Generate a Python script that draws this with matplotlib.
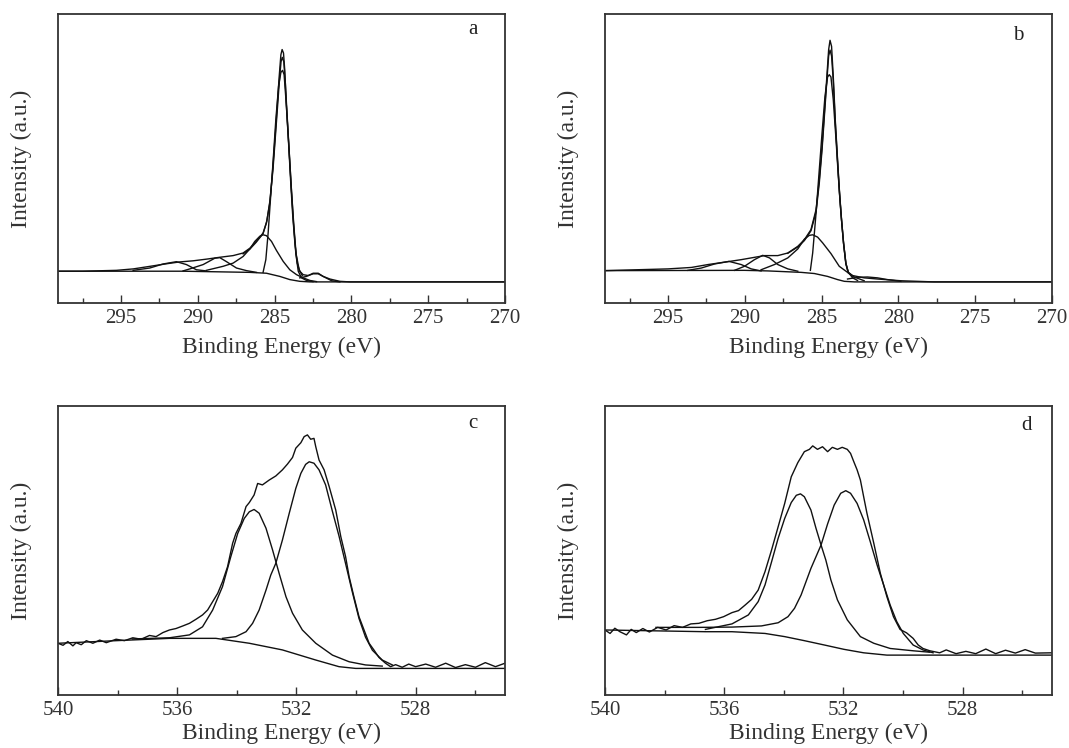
import matplotlib
matplotlib.use("Agg")
import matplotlib.pyplot as plt
from matplotlib.ticker import MultipleLocator

plt.rcParams['font.family'] = ['Liberation Serif', 'DejaVu Serif']

# ---- panel a : C 1s (binding energy eV, intensity in % of axis height) ----
a_raw_x = [299.1, 297.5, 295.3, 294.2, 293.1, 292.0, 291.2, 290.3, 289.4, 288.6, 287.7, 287.05,
           286.6, 286.2, 285.75, 285.53, 285.31, 285.14, 284.98, 284.83, 284.70, 284.59, 284.51,
           284.42, 284.34, 284.23, 284.09, 283.96, 283.83, 283.68, 283.53, 283.36, 283.14, 282.81,
           282.49, 282.16, 281.84, 281.40, 280.75, 280.10, 270.0]
a_raw_y = [11.0, 11.0, 11.3, 11.8, 12.7, 13.6, 14.2, 14.6, 15.2, 15.8, 16.4, 17.3,
           19.0, 21.3, 24.2, 27.7, 34.6, 45.0, 56.5, 68.1, 78.4, 85.9, 87.7,
           86.5, 80.7, 68.1, 55.4, 42.7, 31.1, 20.8, 13.8, 11.0, 9.8, 9.5,
           10.1, 10.1, 9.2, 8.3, 7.5, 7.3, 7.3]
a_fit_x = [287.05, 286.6, 286.2, 285.75, 285.5, 285.3, 285.1, 284.95, 284.8, 284.68, 284.58,
           284.5, 284.4, 284.3, 284.2, 284.05, 283.9, 283.75, 283.6, 283.4, 283.2]
a_fit_y = [17.0, 18.7, 21.0, 24.0, 28.5, 35.5, 46.5, 57.5, 68.5, 77.5, 83.5,
           85.0, 83.5, 76.0, 66.5, 52.5, 39.0, 27.0, 17.0, 11.5, 9.5]
a_c1_x = [285.75, 285.57, 285.42, 285.27, 285.09, 284.92, 284.74, 284.59, 284.48, 284.38,
          284.23, 284.07, 283.92, 283.77, 283.62, 283.46, 283.25, 282.92, 282.5]
a_c1_y = [10.6, 15.0, 24.2, 35.8, 49.6, 63.4, 75.0, 79.8, 80.5, 79.0,
          68.1, 54.2, 40.4, 27.7, 17.3, 11.0, 8.7, 7.8, 7.4]
a_c2_x = [289.44, 288.35, 287.70, 287.05, 286.61, 286.29, 285.96, 285.75, 285.53, 285.20,
          284.88, 284.44, 284.01, 283.57, 283.14, 282.70, 282.27]
a_c2_y = [11.3, 12.7, 13.8, 16.1, 18.7, 21.3, 23.1, 23.6, 23.3, 21.3,
          18.2, 14.4, 11.5, 9.8, 8.7, 7.8, 7.4]
a_c3_x = [290.96, 290.52, 289.65, 288.89, 288.57, 288.13, 287.48, 286.83, 286.18]
a_c3_y = [11.1, 11.8, 13.3, 15.5, 15.7, 14.3, 12.1, 11.2, 10.6]
a_c4_x = [294.21, 293.13, 292.26, 291.39, 290.74, 290.09, 289.44]
a_c4_y = [11.3, 12.1, 13.5, 14.3, 13.3, 11.5, 11.1]
a_c5_x = [283.36, 282.92, 282.49, 282.16, 281.84, 281.29, 280.75]
a_c5_y = [8.7, 9.2, 10.3, 10.3, 9.2, 7.7, 7.3]
a_bg_x = [299.1, 290.96, 288.79, 286.61, 285.53, 284.66, 284.01, 283.36, 282.70, 270.0]
a_bg_y = [11.0, 11.0, 10.8, 10.6, 10.3, 9.2, 8.1, 7.5, 7.3, 7.3]

# ---- panel b : C 1s ----
b_raw_x = [299.1, 295.0, 293.48, 292.40, 291.10, 290.23, 289.37, 288.72, 287.85, 287.20, 286.55,
           286.12, 285.69, 285.36, 285.15, 284.97, 284.82, 284.67, 284.54, 284.45, 284.35,
           284.24, 284.11, 283.96, 283.83, 283.70, 283.57, 283.42, 283.26, 282.98, 282.23,
           281.36, 279.84, 277.68, 270.0]
b_raw_y = [11.2, 11.8, 12.3, 13.3, 14.3, 15.0, 15.8, 16.4, 16.4, 17.3, 19.6,
           21.9, 25.4, 32.3, 42.7, 54.2, 65.7, 77.3, 87.7, 90.9, 88.8,
           78.4, 63.4, 49.6, 38.1, 28.8, 20.8, 13.8, 10.6, 9.5, 8.7,
           8.3, 7.7, 7.3, 7.3]
b_fit_x = [287.2, 286.55, 286.12, 285.69, 285.36, 285.15, 284.97, 284.82, 284.67, 284.54, 284.45,
           284.35, 284.24, 284.11, 283.96, 283.83, 283.7, 283.57, 283.42, 283.26, 282.98]
b_fit_y = [17.2, 19.4, 21.6, 25.0, 31.5, 41.5, 53.0, 64.5, 76.0, 85.5, 87.5,
           85.5, 77.0, 62.5, 49.0, 37.5, 28.5, 20.5, 13.5, 10.4, 9.3]
b_c1_x = [285.73, 285.58, 285.36, 285.15, 284.97, 284.78, 284.61, 284.50, 284.39, 284.24,
          284.06, 283.91, 283.74, 283.57, 283.42, 283.26, 282.98, 282.66]
b_c1_y = [11.3, 17.3, 31.1, 46.1, 58.8, 71.5, 78.2, 79.0, 78.2, 70.4,
          56.5, 43.8, 31.1, 20.8, 13.8, 10.6, 8.7, 7.8]
b_c2_x = [288.94, 288.07, 287.20, 286.55, 286.12, 285.80, 285.58, 285.26, 284.93, 284.39,
          283.85, 283.31, 282.87, 282.23]
b_c2_y = [11.5, 13.3, 15.6, 18.7, 22.1, 23.4, 23.6, 22.8, 20.8, 17.1,
          12.7, 10.6, 9.0, 7.7]
b_c3_x = [290.67, 290.02, 289.37, 288.83, 288.39, 287.85, 287.20, 286.55]
b_c3_y = [11.3, 12.7, 15.0, 16.5, 15.6, 13.3, 11.8, 11.0]
b_c4_x = [293.70, 292.83, 291.97, 291.03, 290.23, 289.58, 288.94]
b_c4_y = [11.3, 12.1, 13.5, 14.4, 13.3, 11.8, 11.1]
b_c5_x = [283.31, 282.66, 282.01, 281.36, 280.71, 279.84]
b_c5_y = [8.3, 8.9, 9.0, 8.7, 8.1, 7.5]
b_bg_x = [299.1, 290.02, 288.50, 286.33, 285.47, 284.61, 283.96, 283.52, 282.87, 270.0]
b_bg_y = [11.2, 11.3, 11.1, 10.6, 10.2, 9.2, 8.1, 7.5, 7.3, 7.3]

# ---- panel c : O 1s ----
c_raw_x = [540.0, 539.83, 539.67, 539.50, 539.39, 539.22, 539.05, 538.83, 538.60, 538.38, 538.05,
           537.77, 537.49, 537.21, 536.93, 536.71, 536.48, 536.26, 536.04, 535.81, 535.59,
           535.37, 535.15, 534.98, 534.81, 534.64, 534.48, 534.31, 534.14, 534.03, 533.86,
           533.69, 533.58, 533.42, 533.30, 533.14, 532.91, 532.69, 532.47, 532.30, 532.13,
           532.02, 531.85, 531.74, 531.63, 531.52, 531.41, 531.35, 531.24, 531.07, 530.90,
           530.68, 530.51, 530.35, 530.23, 530.07, 529.90, 529.73, 529.56, 529.40, 529.23,
           529.01, 528.84, 528.67, 528.45, 528.23, 528.00, 527.66, 527.33, 526.99, 526.66,
           526.33, 525.99, 525.66, 525.32, 525.0]
c_raw_y = [17.9, 17.2, 18.5, 17.0, 18.1, 17.4, 18.8, 17.9, 19.0, 18.1, 19.3,
           18.8, 19.8, 19.3, 20.6, 20.2, 21.6, 22.5, 23.0, 23.9, 24.8,
           26.2, 27.7, 29.4, 32.3, 35.2, 39.2, 44.4, 52.5, 55.9, 59.4,
           65.2, 66.6, 69.2, 73.2, 72.7, 74.4, 75.8, 77.9, 79.9, 82.2,
           85.4, 87.3, 89.4, 90.0, 88.5, 88.8, 85.9, 81.3, 77.9, 72.1,
           64.0, 54.8, 47.9, 40.9, 34.0, 27.1, 22.5, 17.9, 15.6, 13.0,
           11.0, 9.8, 10.5, 9.6, 10.7, 9.8, 10.7, 9.6, 11.0, 9.5,
           10.5, 9.6, 11.2, 9.8, 11.0]
c_c1_x = [534.48, 534.03, 533.69, 533.47, 533.25, 533.02, 532.86, 532.69, 532.47, 532.24, 532.02,
          531.85, 531.69, 531.57, 531.41, 531.24, 531.02, 530.79, 530.57, 530.35, 530.12,
          529.90, 529.68, 529.45, 529.12, 528.78]
c_c1_y = [19.6, 20.2, 21.9, 24.8, 29.4, 36.3, 41.5, 45.6, 53.6, 62.9, 71.5,
          76.7, 79.8, 80.7, 80.2, 77.9, 72.7, 63.5, 55.0, 45.5, 35.5,
          26.5, 20.0, 15.5, 12.1, 10.4]
c_c2_x = [537.5, 536.26, 535.59, 535.15, 534.81, 534.48, 534.20, 533.97, 533.75, 533.58, 533.42,
          533.25, 533.02, 532.80, 532.58, 532.35, 532.13, 531.80, 531.35, 530.79, 530.23,
          529.68, 529.12]
c_c2_y = [19.4, 19.8, 20.8, 23.6, 29.4, 37.5, 47.9, 55.9, 61.1, 63.4, 64.2,
          62.9, 57.7, 50.2, 42.1, 34.0, 28.3, 22.5, 17.9, 13.8, 11.5,
          10.4, 10.0]
c_bg_x = [540.0, 538.05, 536.26, 534.70, 533.58, 532.47, 531.35, 530.57, 530.01, 525.0]
c_bg_y = [17.9, 18.8, 19.6, 19.6, 17.9, 15.6, 12.1, 9.8, 9.2, 9.2]

# ---- panel d : O 1s ----
d_raw_x = [540.0, 539.83, 539.67, 539.50, 539.28, 539.12, 538.95, 538.73, 538.51, 538.23, 537.95,
           537.68, 537.40, 537.12, 536.85, 536.57, 536.29, 536.02, 535.74, 535.52, 535.30,
           535.08, 534.86, 534.63, 534.41, 534.19, 533.97, 533.75, 533.53, 533.31, 533.14,
           533.03, 532.87, 532.70, 532.53, 532.37, 532.20, 532.04, 531.87, 531.76, 531.65,
           531.54, 531.43, 531.32, 531.21, 530.98, 530.76, 530.54, 530.32, 530.10, 529.88,
           529.66, 529.49, 529.33, 529.10, 528.77, 528.55, 528.22, 527.89, 527.56, 527.22,
           526.89, 526.56, 526.23, 525.90, 525.56, 525.0]
d_raw_y = [22.5, 21.3, 23.1, 21.9, 20.8, 22.7, 21.6, 23.0, 21.8, 23.4, 22.5,
           24.0, 23.4, 24.6, 24.8, 25.7, 26.2, 27.1, 28.5, 29.2, 31.1,
           33.1, 36.3, 42.7, 50.2, 58.2, 66.3, 75.5, 80.4, 84.2, 85.0,
           86.2, 85.0, 85.9, 84.2, 85.7, 85.0, 85.7, 85.0, 83.6, 80.7,
           77.9, 74.4, 68.6, 62.9, 52.5, 42.1, 34.0, 27.1, 22.7, 21.5,
           19.6, 17.3, 16.1, 15.3, 14.6, 15.6, 14.3, 15.1, 14.3, 15.9,
           14.3, 15.5, 14.5, 15.7, 14.5, 14.6]
d_c1_x = [538.29, 536.85, 535.74, 534.75, 534.19, 533.86, 533.64, 533.42, 533.09, 532.75, 532.53,
          532.31, 532.09, 531.92, 531.76, 531.54, 531.32, 531.10, 530.87, 530.65, 530.43,
          530.21, 529.99, 529.66, 529.33, 528.99]
d_c1_y = [23.4, 23.4, 23.5, 23.9, 25.0, 27.1, 30.0, 34.6, 43.8, 51.9, 59.2,
          65.7, 69.8, 70.7, 69.8, 66.3, 60.6, 53.1, 45.0, 38.1, 31.1,
          25.4, 21.3, 17.3, 15.6, 14.6]
d_c2_x = [536.63, 535.74, 535.19, 534.86, 534.63, 534.41, 534.19, 533.97, 533.75, 533.58, 533.44,
          533.31, 533.09, 532.92, 532.75, 532.59, 532.42, 532.20, 531.87, 531.43, 530.98,
          530.43, 529.66, 529.10]
d_c2_y = [22.7, 24.6, 27.7, 32.3, 38.1, 46.1, 54.2, 61.1, 66.6, 69.1, 69.6,
          68.6, 64.0, 57.7, 51.9, 46.7, 39.8, 32.9, 26.0, 20.2, 17.9,
          16.1, 15.3, 14.8]
d_bg_x = [540.0, 536.63, 535.74, 534.63, 533.97, 533.31, 532.64, 531.98, 531.32, 530.54, 525.0]
d_bg_y = [22.5, 21.9, 21.9, 21.3, 20.2, 18.8, 17.3, 15.8, 14.6, 13.8, 13.8]

panels = [
    ('a', [(a_raw_x, a_raw_y), (a_fit_x, a_fit_y), (a_c1_x, a_c1_y), (a_c2_x, a_c2_y),
           (a_c3_x, a_c3_y), (a_c4_x, a_c4_y), (a_c5_x, a_c5_y), (a_bg_x, a_bg_y)],
     (299.1, 270), 5, 2.5),
    ('b', [(b_raw_x, b_raw_y), (b_fit_x, b_fit_y), (b_c1_x, b_c1_y), (b_c2_x, b_c2_y),
           (b_c3_x, b_c3_y), (b_c4_x, b_c4_y), (b_c5_x, b_c5_y), (b_bg_x, b_bg_y)],
     (299.1, 270), 5, 2.5),
    ('c', [(c_raw_x, c_raw_y), (c_c1_x, c_c1_y), (c_c2_x, c_c2_y), (c_bg_x, c_bg_y)],
     (540, 525), 4, 2),
    ('d', [(d_raw_x, d_raw_y), (d_c1_x, d_c1_y), (d_c2_x, d_c2_y), (d_bg_x, d_bg_y)],
     (540, 525), 4, 2),
]

W, H = 1069, 748
fig = plt.figure(figsize=(W / 100, H / 100), dpi=100)
# axes boxes in pixels: left, top, right, bottom
boxes = [(58, 14, 505, 303), (605, 14, 1052, 303), (58, 406, 505, 695), (605, 406, 1052, 695)]
letter_pos = [(0.928, 0.945), (0.924, 0.927), (0.928, 0.941), (0.943, 0.934)]
xlabel_pad = [7, 7, 2, 2]

for (letter, curves, xlim, major, minor), (l, t, r, b), lp, pad in zip(panels, boxes, letter_pos,
                                                                        xlabel_pad):
    ax = fig.add_axes([l / W, 1 - b / H, (r - l) / W, (b - t) / H])
    for x, y in curves:
        ax.plot(x, y, color='#111111', lw=1.0)
    ax.set_xlim(*xlim)
    ax.set_ylim(0, 100)
    ax.xaxis.set_major_locator(MultipleLocator(major))
    ax.xaxis.set_minor_locator(MultipleLocator(minor))
    ax.set_yticks([])
    ax.tick_params(axis='x', which='major', direction='in', length=6, width=1.0,
                   labelsize=15, pad=4, colors='#333333', labelcolor='#333333')
    ax.tick_params(axis='x', which='minor', direction='in', length=3.5, width=1.0,
                   colors='#333333')
    for sp in ax.spines.values():
        sp.set_linewidth(1.3)
        sp.set_color('#333333')
    ax.set_xlabel('Binding Energy (eV)', fontsize=17, color='#333333', labelpad=pad)
    ax.set_ylabel('Intensity (a.u.)', fontsize=17, color='#333333')
    ax.yaxis.set_label_coords(-26 / (r - l), 0.5)
    ax.text(lp[0], lp[1], letter, transform=ax.transAxes, fontsize=15,
            ha='center', va='center', color='#222222')

fig.savefig('out.png', dpi=100)
